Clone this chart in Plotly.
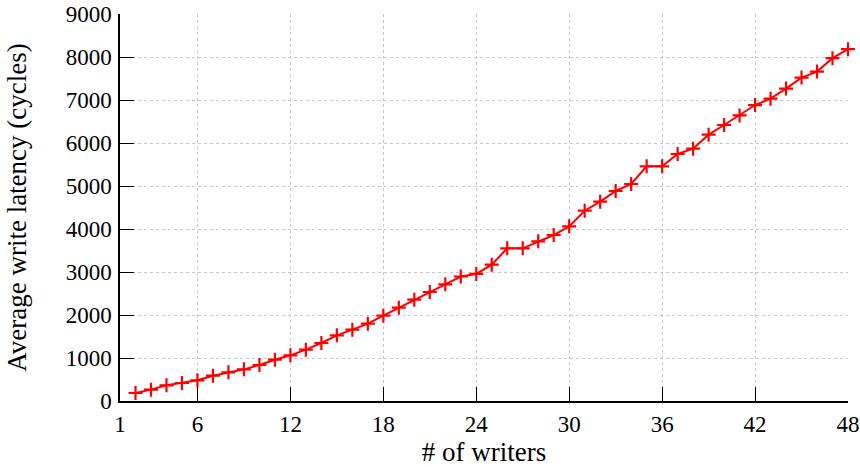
import plotly.graph_objects as go

writers = list(range(2, 49))
latency = [186, 264, 364, 419, 481, 589, 667, 736, 837, 961, 1062, 1194, 1349, 1527,
           1659, 1798, 1984, 2171, 2357, 2535, 2713, 2895, 2955, 3171, 3550, 3550,
           3713, 3860, 4062, 4426, 4636, 4884, 5047, 5457, 5457, 5744, 5868, 6194,
           6419, 6642, 6883, 7031, 7265, 7521, 7661, 7973, 8183]
x_ticks = [1, 6, 12, 18, 24, 30, 36, 42, 48]
y_ticks = list(range(0, 9001, 1000))

font_family = "Liberation Serif, DejaVu Serif, serif"
tick_size = 23
title_size = 27

fig = go.Figure()
fig.add_trace(go.Scatter(
    x=writers, y=latency, mode="lines+markers",
    line=dict(color="#ff0000", width=2),
    marker=dict(symbol="cross-thin", size=10, line=dict(color="#ff0000", width=2.2)),
    showlegend=False, cliponaxis=False,
))

axis_common = dict(
    showgrid=True, gridcolor="#c8c8c8", griddash="dot", gridwidth=1,
    showline=True, linecolor="black", linewidth=1.5,
    ticks="inside", ticklen=14, tickcolor="black", tickwidth=1,
    zeroline=False, mirror=False, automargin=False,
    tickfont=dict(family=font_family, size=tick_size, color="black"),
)

fig.update_xaxes(range=[1, 48], tickvals=x_ticks, ticktext=[str(v) for v in x_ticks],
                 ticklabelstandoff=2,
                 title=dict(text="# of writers",
                            font=dict(family=font_family, size=title_size, color="black"),
                            standoff=2),
                 **axis_common)
fig.update_yaxes(range=[0, 9000], tickvals=y_ticks, ticktext=[str(v) for v in y_ticks],
                 ticklabelstandoff=2,
                 title=dict(text="Average write latency (cycles)",
                            font=dict(family=font_family, size=title_size, color="black"),
                            standoff=31),
                 **axis_common)

fig.update_layout(
    width=860, height=467,
    margin=dict(l=120, r=12, t=14, b=66),
    plot_bgcolor="white", paper_bgcolor="white",
    font=dict(family=font_family, color="black"),
)

fig.write_html("out.html", config={"displayModeBar": False},
               post_script="document.body.style.margin='0';document.body.style.overflow='hidden';")
